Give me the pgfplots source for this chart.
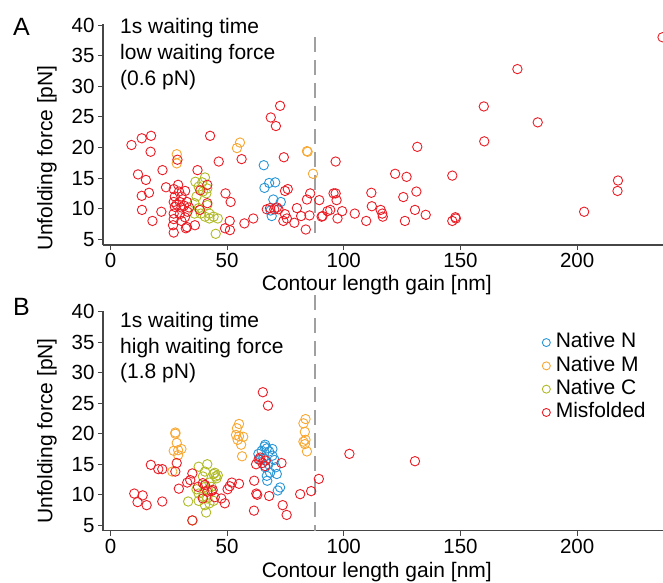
\documentclass[border=0pt]{standalone}
\usepackage{pgfplots}
\pgfplotsset{compat=1.18}
\usepackage{fontspec}
\setmainfont{Liberation Sans}
\definecolor{cN}{RGB}{40,150,215}
\definecolor{cM}{RGB}{248,168,50}
\definecolor{cC}{RGB}{176,186,36}
\definecolor{cR}{RGB}{236,28,36}
\definecolor{dashgray}{RGB}{160,160,160}
\definecolor{axgray}{RGB}{70,70,70}

\pgfplotsset{
  myax/.style={
    scale only axis, width=560pt,
    xmin=-3.2, xmax=236.8,
    axis x line=bottom, axis y line=left,
    axis line style={-, line width=1.3pt, axgray},
    every outer x axis line/.append style={-},
    every outer y axis line/.append style={-},
    xtick={0,50,100,150,200}, ytick={5,10,15,20,25,30,35,40},
    tick align=outside, major tick length=5pt,
    tick style={line width=0.9pt, axgray},
    /pgf/number format/assume math mode=true,
    tick label style={font=\fontsize{20.5}{20.5}\selectfont},
    label style={font=\fontsize{21}{21}\selectfont},
    clip=false,
    legend image code/.code={\path (-4pt,0pt) (9pt,0pt); \draw[#1, mark size=4pt] plot coordinates {(0pt,0pt)};},
  },
  pN/.style={only marks, mark=o, mark size=4.7pt, line width=0.9pt, cN},
  pM/.style={only marks, mark=o, mark size=4.7pt, line width=0.9pt, cM},
  pC/.style={only marks, mark=o, mark size=4.7pt, line width=0.9pt, cC},
  pR/.style={only marks, mark=o, mark size=4.7pt, line width=0.9pt, cR},
}

\begin{document}
\begin{tikzpicture}
\path[use as bounding box] (0pt,0pt) rectangle (663pt,582pt);

% ---------------- Panel A ----------------
\begin{axis}[myax, at={(103pt,337pt)}, anchor=south west,
  height=220.6pt, ymin=4.07, ymax=40.1,
  xlabel={Contour length gain [nm]},
  ylabel={Unfolding force [pN]},
  xlabel style={at={(rel axis cs:0.489,-0.181)}, anchor=center},
  ylabel style={at={(rel axis cs:-0.1,0.394)}, anchor=center},
]
\addplot[dashgray, line width=2pt, dash pattern=on 15pt off 8pt, forget plot] coordinates {(87.7,38) (87.7,6)};
\addplot[pN] coordinates {(65.7,17.1)(66.0,13.4)(68.0,14.2)(70.6,14.3)(69.8,11.5)(73.0,11.1)(69.1,8.8)(68.6,9.7)};
\addplot[pM] coordinates {(28.4,18.9)(28.4,17.4)(55.5,20.8)(54.2,19.9)(84.5,19.3)(84.2,19.4)(86.8,15.7)};
\addplot[pC] coordinates {(36.4,14.4)(40.5,15.1)(37.8,13.6)(39.6,12.8)(36.9,12.0)(41.1,12.5)(36.0,10.9)(37.8,10.1)(41.5,10.6)(38.7,9.2)(40.5,8.7)(42.4,8.4)(44.2,8.7)(46.0,8.4)(36.0,9.2)(45.1,5.9)(39.3,14.3)(41.5,13.3)(42.4,9.2)};
\addplot[pR] coordinates {
(9.0,20.4)(13.4,21.5)(17.4,21.9)(17.2,19.3)(42.7,21.9)(46.4,17.7)(22.3,16.3)(37.3,16.3)(11.8,15.6)(15.2,14.7)(13.4,12.1)(16.5,12.6)(13.5,9.8)(21.8,9.5)(18.0,8.0)(23.8,13.5)(28.7,18.0)
(27.1,13.2)(29.0,13.9)(29.4,12.8)(32.0,12.9)(27.6,12.0)(30.4,12.0)(27.1,11.1)(29.7,11.1)(32.8,11.1)(27.6,10.3)(30.4,10.2)(33.7,10.2)(27.1,9.2)(29.7,9.1)(31.9,8.6)(27.1,8.3)(30.4,8.0)(32.8,7.0)(26.8,7.3)(27.1,6.1)(36.2,7.3)(38.3,9.8)(32.3,6.8)(41.5,13.9)(41.5,10.9)(38.5,13.0)(31.5,10.5)(28.3,10.7)(33.0,9.5)
(56.2,18.1)(74.3,18.4)(49.3,12.5)(51.5,11.1)(51.1,8.0)(49.1,6.8)(51.2,6.5)(57.4,7.6)(61.2,8.4)(74.8,12.9)(76.0,13.2)(67.0,9.9)(68.4,10.1)(70.2,9.9)(71.3,10.2)(72.0,9.9)(74.8,9.1)(75.6,8.4)(74.1,8.0)(78.8,7.7)(79.9,10.1)(81.7,8.8)(85.3,8.9)(84.2,11.5)(85.6,12.5)(89.5,11.4)(83.7,6.6)(90.9,8.8)(94.2,9.8)(95.6,12.5)(68.7,24.9)(70.9,23.5)(72.7,26.8)
(96.5,17.7)(131.5,20.1)(160.0,26.7)(160.2,21.0)(174.4,32.8)(183.1,24.1)(236.6,38.0)(122.0,15.7)(126.9,15.2)(146.5,15.4)(111.8,12.6)(131.1,12.8)(125.5,11.9)(112.0,10.4)(96.5,12.5)(96.9,11.4)(130.5,9.8)(115.8,9.8)(116.5,9.2)(116.7,8.7)(135.1,9.0)(104.7,9.2)(109.6,8.0)(126.2,8.0)(146.5,8.0)(147.8,8.6)(148.0,8.4)(203.0,9.5)(217.5,14.6)(217.3,12.9)(93.0,9.6)(97.3,8.4)(99.3,9.6)(90.5,8.7)
};
\end{axis}

% ---------------- Panel B ----------------
\begin{axis}[myax, at={(103pt,51.3pt)}, anchor=south west,
  height=219.7pt, ymin=4.115, ymax=40.1,
  xlabel={Contour length gain [nm]},
  ylabel={Unfolding force [pN]},
  xlabel style={at={(rel axis cs:0.489,-0.186)}, anchor=center},
  ylabel style={at={(rel axis cs:-0.1,0.454)}, anchor=center},
  legend style={at={(rel axis cs:0.778,0.913)}, anchor=north west, draw=none, fill=none,
    font=\fontsize{21}{21}\selectfont, row sep=2.8pt,
    nodes={inner ysep=0pt, inner xsep=0pt, text height=15.5pt, text depth=5pt}},
  legend cell align=left,
]
\addplot[dashgray, line width=2pt, dash pattern=on 15pt off 8pt, forget plot] coordinates {(87.7,42.7) (87.7,4.115)};
\addplot[pN] coordinates {(66.3,18.2)(67.0,17.6)(64.8,17.2)(68.0,17.1)(63.4,16.7)(69.4,16.4)(65.5,16.0)(70.3,15.7)(64.1,15.7)(67.7,15.0)(66.3,14.5)(70.8,14.5)(68.4,13.6)(67.0,13.1)(71.3,13.4)(67.2,12.3)(72.7,11.2)(71.7,10.7)(69.4,17.5)(66.0,17.9)};
\addlegendentry{Native N}
\addplot[pM] coordinates {(27.8,20.2)(27.8,20.0)(28.4,18.5)(27.1,17.2)(29.0,17.3)(30.4,17.5)(29.0,16.5)(26.5,13.8)(55.1,21.6)(54.2,20.9)(53.8,19.8)(55.1,19.6)(56.9,19.5)(54.5,19.0)(56.0,18.2)(56.4,16.3)(83.6,22.4)(82.7,21.7)(83.3,20.3)(82.7,18.7)(83.6,19.0)(84.2,17.1)(83.3,18.3)};
\addlegendentry{Native M}
\addplot[pC] coordinates {(33.3,8.9)(36.9,10.9)(37.8,14.6)(41.5,15.0)(40.5,13.8)(39.6,13.0)(44.2,13.4)(45.1,13.0)(46.0,13.2)(42.4,12.0)(40.5,11.3)(37.8,10.2)(39.6,9.7)(41.5,9.4)(42.4,8.6)(40.5,8.3)(41.0,7.1)(44.2,9.0)(43.3,11.3)(35.1,5.8)(37.8,9.0)(41.8,10.8)(45.5,12.7)(44.7,13.6)};
\addlegendentry{Native C}
\addplot[pR] coordinates {
(10.2,10.2)(13.8,9.9)(11.6,8.8)(15.5,8.3)(22.2,8.9)(17.3,14.9)(20.5,14.2)(22.2,14.2)(28.4,15.2)(27.8,13.8)(29.3,11.0)(32.9,12.0)(34.2,12.4)(35.1,13.5)(37.5,11.3)(39.6,11.9)(43.3,10.6)(44.7,9.6)(47.5,9.4)(49.0,8.6)(50.2,10.9)(51.1,11.4)(52.0,12.0)(55.1,11.8)(61.6,12.3)(61.5,7.4)(62.5,10.2)(62.9,10.0)(68.0,9.8)(62.4,15.0)(64.2,16.1)(65.1,15.2)(66.5,15.6)(73.3,15.2)(65.3,26.8)(67.5,24.6)(73.8,8.3)(75.5,6.7)(81.3,10.1)(86.0,10.6)(89.3,12.6)(102.4,16.7)(130.5,15.5)(35.1,5.8)(40.5,11.6)(41.5,10.5)(43.8,10.8)(39.6,9.4)(63.5,15.8)(66.3,14.7)
};
\addlegendentry{Misfolded}
\end{axis}

% ---------------- annotations ----------------
\begin{scope}[every node/.style={font=\fontsize{21}{21}\selectfont, inner sep=0pt, anchor=base west}]
\node at (120pt,548.7pt) {1s waiting time};
\node at (120pt,522.7pt) {low waiting force};
\node at (120pt,496pt) {(0.6 pN)};
\node at (120pt,254.3pt) {1s waiting time};
\node at (120pt,228.7pt) {high waiting force};
\node at (120pt,203.7pt) {(1.8 pN)};
\end{scope}
\node[font=\fontsize{25}{25}\selectfont, inner sep=0pt, anchor=base west] at (13pt,546pt) {A};
\node[font=\fontsize{25}{25}\selectfont, inner sep=0pt, anchor=base west] at (13pt,267pt) {B};
\end{tikzpicture}
\end{document}
